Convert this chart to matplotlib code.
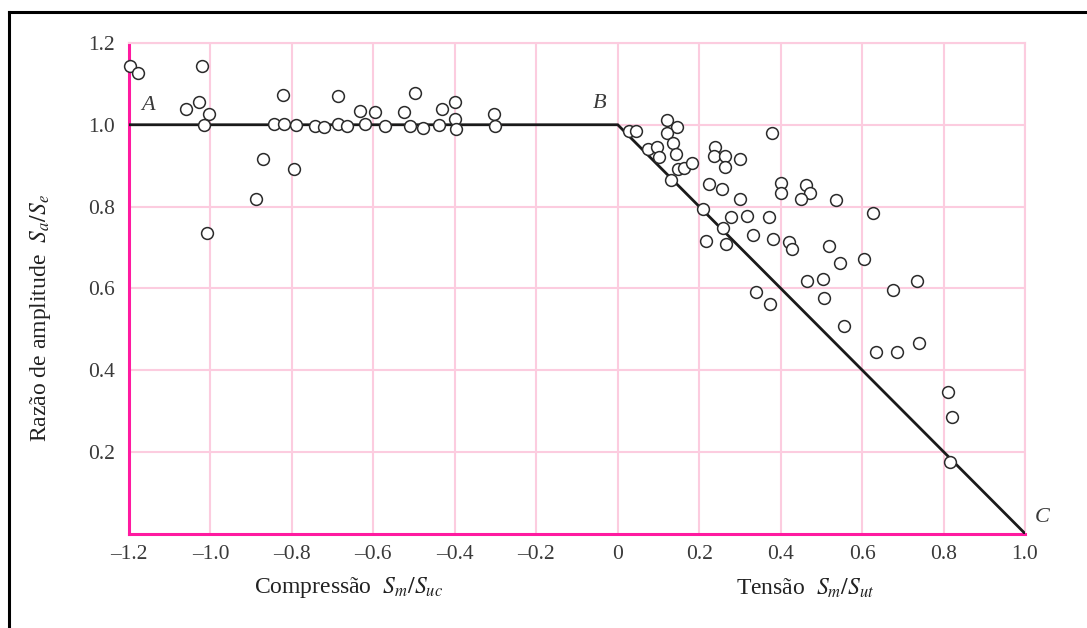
import matplotlib
matplotlib.use("Agg")
import matplotlib.pyplot as plt
from matplotlib.lines import Line2D

# test data, compression side (Sm/Suc < 0)
comp_x = [-1.198, -1.177, -1.021, -1.060, -1.027, -1.004, -1.015, -1.009,
          -0.889, -0.870, -0.823, -0.844, -0.819, -0.790, -0.794, -0.743,
          -0.721, -0.686, -0.687, -0.664, -0.633, -0.621, -0.595, -0.571,
          -0.525, -0.498, -0.510, -0.479, -0.439, -0.432, -0.399, -0.400,
          -0.398, -0.303, -0.301]
comp_y = [1.143, 1.126, 1.144, 1.038, 1.056, 1.026, 0.999, 0.734,
          0.818, 0.915, 1.074, 1.001, 1.001, 0.999, 0.891, 0.998,
          0.995, 1.071, 1.001, 0.998, 1.034, 1.001, 1.031, 0.998,
          1.031, 1.078, 0.998, 0.993, 0.999, 1.038, 1.055, 1.013,
          0.990, 1.026, 0.998]

# test data, tension side (Sm/Sut > 0)
tens_x = [0.028, 0.046, 0.122, 0.146, 0.122, 0.380, 0.075, 0.096, 0.101,
          0.135, 0.143, 0.238, 0.236, 0.264, 0.264, 0.300, 0.147, 0.163,
          0.183, 0.132, 0.225, 0.257, 0.300, 0.402, 0.401, 0.462, 0.472,
          0.450, 0.537, 0.627, 0.210, 0.277, 0.318, 0.372, 0.258, 0.217,
          0.266, 0.333, 0.381, 0.420, 0.427, 0.518, 0.546, 0.605, 0.465,
          0.503, 0.506, 0.556, 0.677, 0.735, 0.633, 0.686, 0.739, 0.339,
          0.375, 0.810, 0.821, 0.817]
tens_y = [0.985, 0.985, 1.012, 0.995, 0.981, 0.981, 0.940, 0.945, 0.922,
          0.955, 0.928, 0.946, 0.924, 0.924, 0.896, 0.916, 0.891, 0.893,
          0.907, 0.865, 0.854, 0.842, 0.818, 0.858, 0.834, 0.853, 0.834,
          0.818, 0.816, 0.785, 0.795, 0.775, 0.777, 0.775, 0.748, 0.716,
          0.708, 0.730, 0.720, 0.714, 0.695, 0.703, 0.662, 0.671, 0.618,
          0.623, 0.577, 0.508, 0.596, 0.618, 0.444, 0.444, 0.467, 0.590,
          0.561, 0.345, 0.284, 0.176]

# failure line A-B-C
line_x = [-1.2, 0.0, 1.0]
line_y = [1.0, 1.0, 0.0]

xticks = [-1.2, -1.0, -0.8, -0.6, -0.4, -0.2, 0.0, 0.2, 0.4, 0.6, 0.8, 1.0]
xtick_labels = ["–1.2", "–1.0", "–0.8", "–0.6", "–0.4", "–0.2",
                "0", "0.2", "0.4", "0.6", "0.8", "1.0"]
yticks = [0.2, 0.4, 0.6, 0.8, 1.0, 1.2]
ytick_labels = ["0.2", "0.4", "0.6", "0.8", "1.0", "1.2"]

plt.rcParams['font.family'] = ['Liberation Serif', 'DejaVu Serif']
plt.rcParams['mathtext.fontset'] = 'stix'

pink = '#fcccdf'
magenta = '#ff1aa0'
txt = '#3a3a3a'

fig = plt.figure(figsize=(10.87, 6.28), dpi=100)
ax = fig.add_axes([129 / 1087, 1 - 533.5 / 628, 896 / 1087, 490.5 / 628])

ax.plot(line_x, line_y, color='#1a1a1a', lw=2.0, zorder=3, solid_joinstyle='miter')
ax.plot(comp_x + tens_x, comp_y + tens_y, 'o', ms=8.5, mfc='white',
        mec='#2a2a2a', mew=1.1, zorder=4, clip_on=False)

ax.set_xlim(-1.2, 1.0)
ax.set_ylim(0, 1.2)
ax.set_xticks(xticks)
ax.set_xticklabels(xtick_labels)
ax.set_yticks(yticks)
ax.set_yticklabels(ytick_labels)
ax.tick_params(length=0, labelsize=15.5, labelcolor=txt)
ax.tick_params(axis='x', pad=8)
ax.tick_params(axis='y', pad=10)

ax.grid(True, color=pink, lw=1.5, zorder=0)
ax.set_axisbelow(True)
for side in ['top', 'right']:
    ax.spines[side].set_color(pink)
    ax.spines[side].set_linewidth(1.5)
for side in ['left', 'bottom']:
    ax.spines[side].set_color(magenta)
    ax.spines[side].set_linewidth(2.2)

ax.set_ylabel(r"Razão de amplitude  $S_a/S_e$", fontsize=17, color='#222222')
ax.yaxis.set_label_coords(-0.085, 0.44)

ax.text(-0.66, -0.111, r"Compressão  $S_m/S_{uc}$", transform=ax.get_xaxis_transform(),
        ha='center', va='center', fontsize=17, color='#222222')
ax.text(0.46, -0.111, r"Tensão  $S_m/S_{ut}$", transform=ax.get_xaxis_transform(),
        ha='center', va='center', fontsize=17, color='#222222')

ax.text(-1.153, 1.048, "A", style='italic', fontsize=16, color=txt, ha='center', va='center')
ax.text(-0.044, 1.051, "B", style='italic', fontsize=16, color=txt, ha='center', va='center')
ax.text(1.042, 0.038, "C", style='italic', fontsize=16, color=txt, ha='center', va='center',
        clip_on=False)

# outer frame (top and left edges only)
fig.add_artist(Line2D([9 / 1087, 1.0], [1 - 12 / 628, 1 - 12 / 628],
                      transform=fig.transFigure, color='black', lw=2.2))
fig.add_artist(Line2D([9 / 1087, 9 / 1087], [0.0, 1 - 12 / 628],
                      transform=fig.transFigure, color='black', lw=2.2))

fig.savefig("out.png", dpi=100)
plt.close(fig)
